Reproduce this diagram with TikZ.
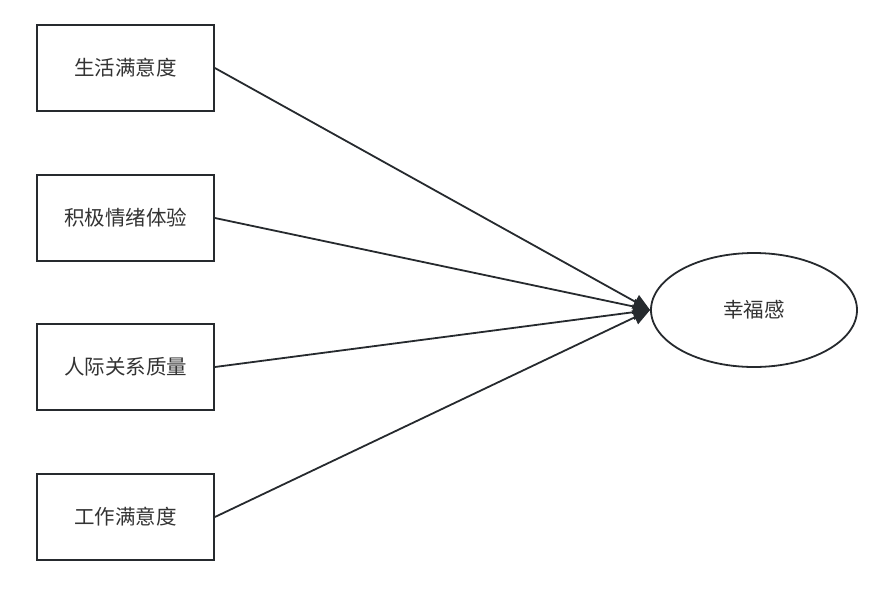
\documentclass[tikz,border=0pt]{standalone}
\usepackage{fontspec}
\newfontfamily\cjk{Noto Sans CJK SC}
\usetikzlibrary{arrows.meta,shapes.geometric}
\definecolor{ln}{HTML}{262A2E}
\definecolor{tx}{HTML}{333333}
\begin{document}
\begin{tikzpicture}[x=1pt,y=-1pt,
  box/.style={draw=ln,line width=1.8pt,minimum width=177pt,minimum height=86pt,inner sep=0pt,font=\cjk\fontsize{20.5}{24}\selectfont,text=tx},
  oval/.style={ellipse,draw=ln,line width=1.8pt,minimum width=206pt,minimum height=114pt,inner sep=0pt,font=\cjk\fontsize{20.5}{24}\selectfont,text=tx},
  conn/.style={draw=ln,line width=1.8pt,-{Triangle[length=17pt,width=15pt]}}]
\useasboundingbox (0,0) rectangle (896,592);
\node[box] (a) at (125.5,68) {生活满意度};
\node[box] (b) at (125.5,218) {积极情绪体验};
\node[box] (c) at (125.5,367) {人际关系质量};
\node[box] (d) at (125.5,517) {工作满意度};
\node[oval] (h) at (754,310) {幸福感};
\draw[conn] (a.east) -- (h.west);
\draw[conn] (b.east) -- (h.west);
\draw[conn] (c.east) -- (h.west);
\draw[conn] (d.east) -- (h.west);
\end{tikzpicture}
\end{document}
